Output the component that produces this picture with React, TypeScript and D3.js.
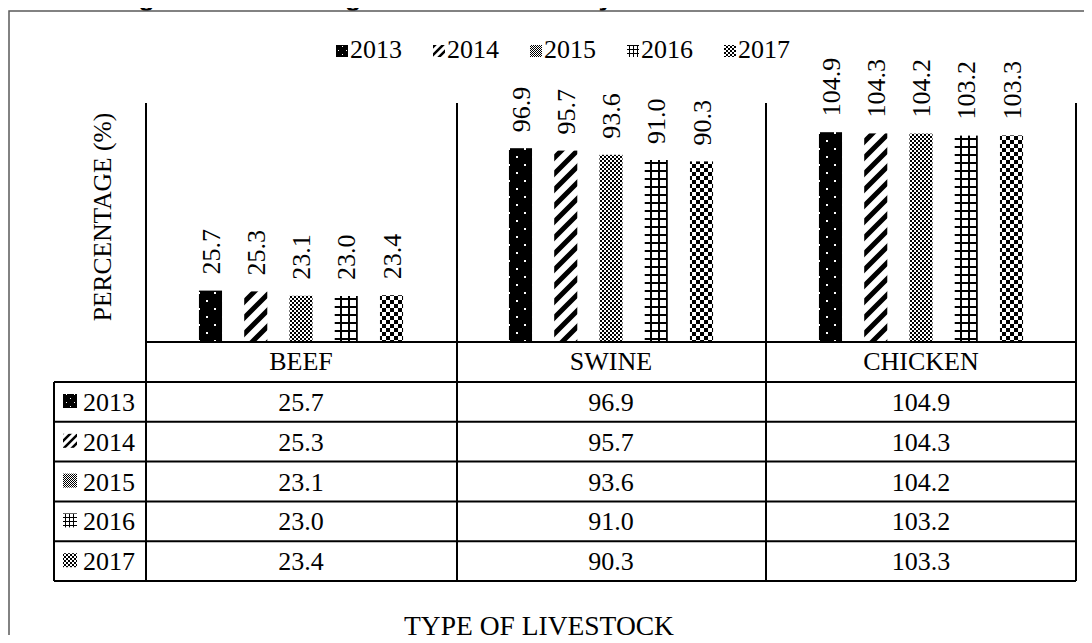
import React, { useEffect, useRef } from "react";
import * as d3 from "d3";

const categories = ["BEEF", "SWINE", "CHICKEN"];
const years = ["2013", "2014", "2015", "2016", "2017"];
const beef = [25.7, 25.3, 23.1, 23.0, 23.4];
const swine = [96.9, 95.7, 93.6, 91.0, 90.3];
const chicken = [104.9, 104.3, 104.2, 103.2, 103.3];
const seriesByCategory = [beef, swine, chicken];

const titleText = "Figure 1: Percentage of Self-Sufficiency Level for Livestock Products";

const App = () => {
  const svgRef = useRef<SVGSVGElement>(null);

  useEffect(() => {
    const width = 1092, height = 643;
    const serif = "Times New Roman, Liberation Serif, DejaVu Serif, serif";

    const svg = d3.select(svgRef.current)
      .attr("width", width)
      .attr("height", height)
      .style("display", "block")
      .style("background", "#fff");
    svg.selectAll("*").remove();

    // fill patterns, s = scale (2 for bars, 1 for legend keys)
    const defs = svg.append("defs");
    const addPatterns = (prefix: string, s: number) => {
      // 2013: black with white dots
      let p = defs.append("pattern").attr("id", prefix + "0")
        .attr("patternUnits", "userSpaceOnUse").attr("width", 8 * s).attr("height", 8 * s);
      p.append("rect").attr("width", 8 * s).attr("height", 8 * s).attr("fill", "#000");
      p.append("rect").attr("x", 2 * s).attr("y", 2 * s).attr("width", s).attr("height", s).attr("fill", "#fff");
      p.append("rect").attr("x", 6 * s).attr("y", 6 * s).attr("width", s).attr("height", s).attr("fill", "#fff");

      // 2014: wide upward diagonal
      p = defs.append("pattern").attr("id", prefix + "1")
        .attr("patternUnits", "userSpaceOnUse").attr("width", 8 * s).attr("height", 8 * s);
      p.append("rect").attr("width", 8 * s).attr("height", 8 * s).attr("fill", "#fff");
      p.append("path")
        .attr("d", `M${-2 * s},${2 * s}L${2 * s},${-2 * s}M0,${8 * s}L${8 * s},0M${6 * s},${10 * s}L${10 * s},${6 * s}`)
        .attr("stroke", "#000").attr("stroke-width", 2.5 * s);

      // 2015: fine checker
      p = defs.append("pattern").attr("id", prefix + "2")
        .attr("patternUnits", "userSpaceOnUse").attr("width", 2 * s).attr("height", 2 * s);
      p.append("rect").attr("width", 2 * s).attr("height", 2 * s).attr("fill", "#fff");
      p.append("rect").attr("width", s).attr("height", s).attr("fill", "#000");
      p.append("rect").attr("x", s).attr("y", s).attr("width", s).attr("height", s).attr("fill", "#000");

      // 2016: grid
      p = defs.append("pattern").attr("id", prefix + "3")
        .attr("patternUnits", "userSpaceOnUse").attr("width", 4 * s).attr("height", 4 * s);
      p.append("rect").attr("width", 4 * s).attr("height", 4 * s).attr("fill", "#fff");
      p.append("rect").attr("x", s).attr("width", s).attr("height", 4 * s).attr("fill", "#000");
      p.append("rect").attr("y", s).attr("width", 4 * s).attr("height", s).attr("fill", "#000");

      // 2017: large checker
      p = defs.append("pattern").attr("id", prefix + "4")
        .attr("patternUnits", "userSpaceOnUse").attr("width", 4 * s).attr("height", 4 * s);
      p.append("rect").attr("width", 4 * s).attr("height", 4 * s).attr("fill", "#fff");
      p.append("rect").attr("width", 2 * s).attr("height", 2 * s).attr("fill", "#000");
      p.append("rect").attr("x", 2 * s).attr("y", 2 * s).attr("width", 2 * s).attr("height", 2 * s).attr("fill", "#000");
    };
    addPatterns("bar", 2);
    addPatterns("key", 1);

    // title, mostly cut off by the top of the page
    svg.append("text")
      .attr("x", 548).attr("y", 6)
      .attr("text-anchor", "middle")
      .style("font-family", "Liberation Sans, Arial, sans-serif")
      .attr("font-weight", "bold")
      .attr("font-size", 26)
      .attr("textLength", 866)
      .attr("lengthAdjust", "spacingAndGlyphs")
      .text(titleText);

    // outer frame
    svg.append("rect")
      .attr("x", 9).attr("y", 11)
      .attr("width", 1092).attr("height", 700)
      .attr("fill", "none")
      .attr("stroke", "#595959")
      .attr("stroke-width", 1.5);

    const x0 = d3.scaleBand().domain(categories).range([146, 1076]);
    const x1 = d3.scaleBand().domain(years).range([0, x0.bandwidth()])
      .paddingInner(0.49).paddingOuter(1.17);
    const y = d3.scaleLinear().domain([0, 120]).range([342, 102]);

    const txt = svg.append("g").style("font-family", serif).attr("fill", "#000");

    // bars and labels
    categories.forEach((cat, ci) => {
      const g = svg.append("g").attr("transform", `translate(${x0(cat)},0)`);
      const vals = seriesByCategory[ci];
      g.selectAll("rect")
        .data(vals)
        .enter().append("rect")
        .attr("x", (d, i) => x1(years[i])!)
        .attr("y", d => y(d))
        .attr("width", x1.bandwidth())
        .attr("height", d => y(0) - y(d))
        .attr("fill", (d, i) => `url(#bar${i})`);
      g.selectAll("text.lbl")
        .data(vals)
        .enter().append("text")
        .attr("class", "lbl")
        .attr("transform", (d, i) => `translate(${x1(years[i])! + x1.bandwidth() / 2},${y(d) - 16}) rotate(-90)`)
        .attr("dy", "0.35em")
        .style("font-family", serif)
        .attr("font-size", 26)
        .text(d => d.toFixed(1));
    });

    // table
    const rowTop = 382, rowH = 39.8;
    const tableBottom = rowTop + rowH * years.length;
    const lines = svg.append("g").attr("stroke", "#000").attr("stroke-width", 2);
    lines.append("line").attr("x1", 146).attr("x2", 1076).attr("y1", y(0)).attr("y2", y(0));
    for (let r = 0; r <= years.length; r++) {
      lines.append("line").attr("x1", 54).attr("x2", 1076)
        .attr("y1", rowTop + r * rowH).attr("y2", rowTop + r * rowH);
    }
    lines.append("line").attr("x1", 54).attr("x2", 54).attr("y1", rowTop).attr("y2", tableBottom);
    [146, 457, 766, 1076].forEach(xv => {
      lines.append("line").attr("x1", xv).attr("x2", xv).attr("y1", 103).attr("y2", tableBottom);
    });

    categories.forEach((cat, ci) => {
      const cx = x0(cat)! + x0.bandwidth() / 2;
      txt.append("text")
        .attr("x", cx).attr("y", 370)
        .attr("text-anchor", "middle")
        .attr("font-size", 26)
        .text(cat);
      seriesByCategory[ci].forEach((v, i) => {
        txt.append("text")
          .attr("x", cx).attr("y", rowTop + i * rowH + 29)
          .attr("text-anchor", "middle")
          .attr("font-size", 26)
          .text(v.toFixed(1));
      });
    });

    years.forEach((yr, i) => {
      svg.append("rect")
        .attr("x", 63).attr("y", rowTop + i * rowH + 12)
        .attr("width", 14).attr("height", 14)
        .attr("fill", `url(#key${i})`);
      txt.append("text")
        .attr("x", 83).attr("y", rowTop + i * rowH + 29)
        .attr("font-size", 26)
        .text(yr);
    });

    // legend
    years.forEach((yr, i) => {
      const lx = 336 + i * 97;
      svg.append("rect")
        .attr("x", lx).attr("y", 45)
        .attr("width", 12).attr("height", 12)
        .attr("fill", `url(#key${i})`);
      txt.append("text")
        .attr("x", lx + 14).attr("y", 58)
        .attr("font-size", 26)
        .text(yr);
    });

    // axis titles
    txt.append("text")
      .attr("transform", "translate(111,217) rotate(-90)")
      .attr("text-anchor", "middle")
      .attr("font-size", 25.5)
      .text("PERCENTAGE (%)");

    txt.append("text")
      .attr("x", 539).attr("y", 635)
      .attr("text-anchor", "middle")
      .attr("font-size", 27.5)
      .text("TYPE OF LIVESTOCK");
  }, []);

  return (
    <div style={{ margin: -8, width: 1092, height: 643, overflow: "hidden" }}>
      <svg ref={svgRef}></svg>
    </div>
  );
};

export default App;
